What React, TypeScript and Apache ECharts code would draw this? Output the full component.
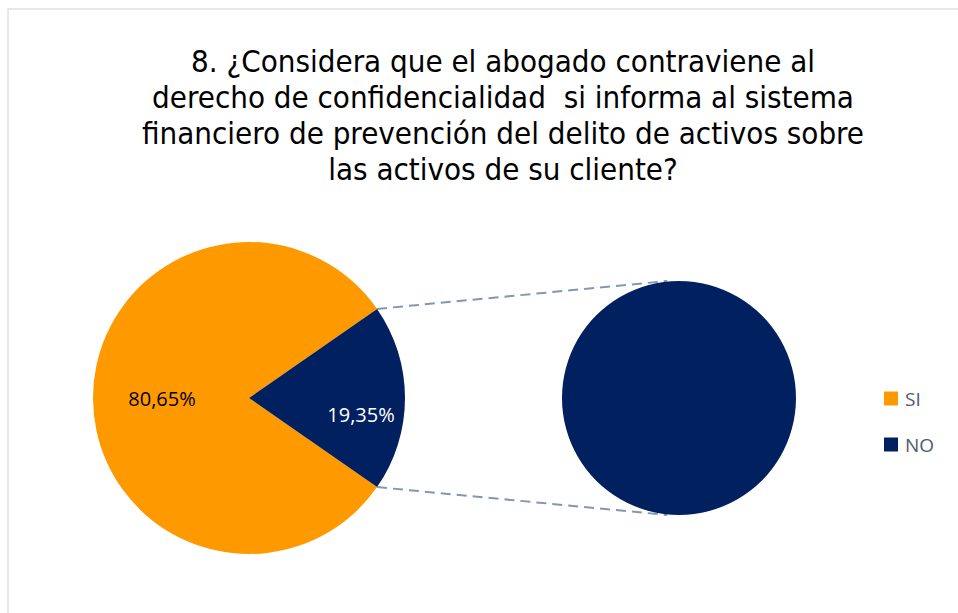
import React, { useEffect, useRef } from "react";
import * as echarts from "echarts";

const titleLines = [
  "8. ¿Considera que el abogado contraviene al",
  "derecho de confidencialidad  si informa al sistema",
  "financiero de prevención del delito de activos sobre",
  "las activos de su cliente?",
];
const categories = ["SI", "NO"];
const values = [80.65, 19.35];
const valueLabels = ["80,65%", "19,35%"];
const colors = ["#FF9900", "#002060"];

export default function App() {
  const ref = useRef<HTMLDivElement>(null);
  useEffect(() => {
    if (!ref.current) return;
    const chart = echarts.init(ref.current, undefined, { renderer: "svg" });
    const cx1 = 249, cy1 = 398, r1 = 156;
    const cx2 = 679, cy2 = 398, r2 = 117;
    const total = values.reduce((a, b) => a + b, 0);
    const half = (values[1] / total) * Math.PI;
    const startAngle = 360 - (values[1] / total) * 180;
    const p1 = [cx1 + r1 * Math.cos(half), cy1 - r1 * Math.sin(half)];
    const p2 = [cx1 + r1 * Math.cos(half), cy1 + r1 * Math.sin(half)];
    const q1 = [cx2 - 0.1 * r2, cy2 - r2];
    const q2 = [cx2 - 0.1 * r2, cy2 + r2];
    const labelFont = "'Open Sans', 'Noto Sans', sans-serif";
    const offsets = [[-6, 0], [31, 16]];
    const labelColors = ["#000000", "#ffffff"];
    chart.setOption({
      animation: false,
      backgroundColor: "#ffffff",
      legend: {
        data: categories,
        orient: "vertical",
        left: 884,
        top: 389,
        padding: 0,
        itemWidth: 14,
        itemHeight: 14,
        itemGap: 27,
        icon: "rect",
        selectedMode: false,
        textStyle: { fontSize: 19, color: "#505a6a", fontFamily: labelFont, padding: [0, 0, 0, 2] },
      },
      graphic: [
        {
          type: "rect",
          z: -10,
          shape: { x: 8, y: 9, width: 1000, height: 700 },
          style: { fill: "none", stroke: "#dde1e9", lineWidth: 1.5 },
        },
        {
          type: "text",
          x: 503,
          y: 43,
          style: {
            text: titleLines.join("\n"),
            textAlign: "center",
            fontSize: 31,
            lineHeight: 36,
            fontFamily: "'Liberation Sans Narrow', 'DejaVu Sans Condensed', sans-serif",
            fill: "#000000",
          },
        },
        {
          type: "line",
          shape: { x1: p1[0], y1: p1[1], x2: q1[0], y2: q1[1] },
          style: { stroke: "#8497b0", lineWidth: 2, lineDash: [10, 6] },
        },
        {
          type: "line",
          shape: { x1: p2[0], y1: p2[1], x2: q2[0], y2: q2[1] },
          style: { stroke: "#8497b0", lineWidth: 2, lineDash: [10, 6] },
        },
      ],
      series: [
        {
          type: "pie",
          center: [cx1, cy1],
          radius: [0, r1],
          startAngle,
          clockwise: true,
          silent: true,
          data: categories.map((n, i) => ({
            name: n,
            value: values[i],
            itemStyle: { color: colors[i] },
            label: { color: labelColors[i], offset: offsets[i] },
          })),
          label: {
            show: true,
            position: "inside",
            formatter: (p: any) => valueLabels[p.dataIndex],
            fontSize: 20,
            fontFamily: labelFont,
          },
          labelLine: { show: false },
        },
        {
          type: "pie",
          center: [cx2, cy2],
          radius: [0, r2],
          silent: true,
          data: [{ name: categories[1], value: values[1], itemStyle: { color: colors[1] } }],
          label: { show: false },
          labelLine: { show: false },
        },
      ],
    });
    return () => chart.dispose();
  }, []);
  return (
    <div
      ref={ref}
      style={{ position: "absolute", left: 0, top: 0, width: 958, height: 613, background: "#fff" }}
    />
  );
}
